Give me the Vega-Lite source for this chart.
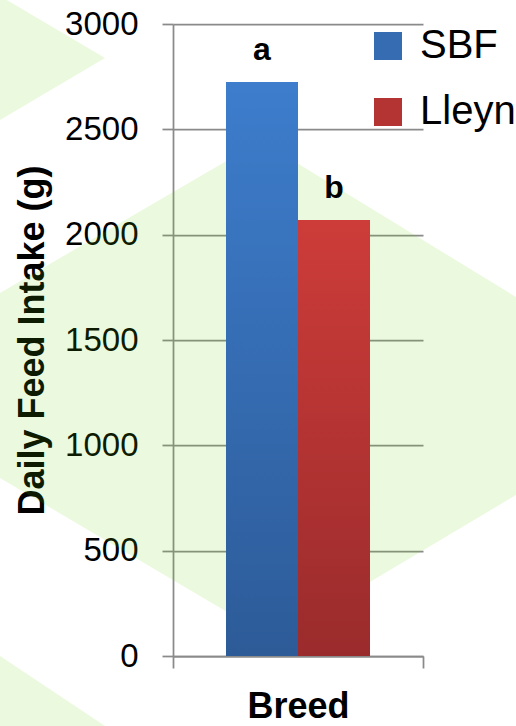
{
  "$schema": "https://vega.github.io/schema/vega-lite/v6.json",
  "width": 250,
  "height": 632,
  "autosize": {"type": "none"},
  "padding": {"left": 173, "top": 24, "right": 93, "bottom": 70},
  "background": "white",
  "config": {"view": {"stroke": null}, "font": "Liberation Sans"},
  "datasets": {
    "intake": [
      {"group": "all", "breed": "SBF", "intake": 2725, "sig": "a"},
      {"group": "all", "breed": "Lleyn", "intake": 2070, "sig": "b"}
    ],
    "backdrop": [
      {"shape": "hex", "u": -173, "top": 1723, "bottom": 845},
      {"shape": "hex", "u": 88, "top": 2445, "bottom": 114},
      {"shape": "hex", "u": 101, "top": 2407, "bottom": 81},
      {"shape": "hex", "u": 343, "top": 1704, "bottom": 764},
      {"shape": "upper", "u": -173, "top": 3133, "bottom": 2544},
      {"shape": "upper", "u": -68, "top": 2839, "bottom": 2839},
      {"shape": "lower", "u": -173, "top": 0, "bottom": -399},
      {"shape": "lower", "u": -68, "top": -332, "bottom": -399}
    ]
  },
  "layer": [
    {
      "data": {"name": "backdrop"},
      "mark": {"type": "area", "color": "#65d100", "opacity": 0.13, "clip": false, "interpolate": "linear"},
      "encoding": {
        "x": {"field": "u", "type": "quantitative", "scale": {"domain": [0, 250], "nice": false, "zero": false}, "axis": null},
        "y": {
          "field": "top", "type": "quantitative",
          "scale": {"domain": [0, 3000], "nice": false},
          "axis": {
            "title": "Daily Feed Intake (g)", "values": [0, 500, 1000, 1500, 2000, 2500, 3000], "format": "d",
            "titleFontSize": 36, "titleFontWeight": "bold", "titleColor": "black", "titlePadding": 13,
            "labelFontSize": 33, "labelColor": "black", "labelPadding": 24,
            "tickSize": 11, "tickColor": "#8a8a8a", "tickWidth": 1.75,
            "domainColor": "#8a8a8a", "domainWidth": 1.75,
            "grid": true, "gridColor": "#8a8a8a", "gridWidth": 1.75
          }
        },
        "y2": {"field": "bottom"},
        "detail": {"field": "shape", "type": "nominal"}
      }
    },
    {
      "data": {"name": "intake"},
      "encoding": {
        "x": {
          "field": "group", "type": "nominal",
          "scale": {"paddingInner": 0, "paddingOuter": 0},
          "axis": {
            "title": "Breed", "labels": false, "bandPosition": 1, "tickExtra": true,
            "tickSize": 12, "tickColor": "#8a8a8a", "tickWidth": 1.75,
            "domainColor": "#8a8a8a", "domainWidth": 1.75,
            "titleFontSize": 36, "titleFontWeight": "bold", "titleColor": "black", "titlePadding": 21
          }
        },
        "xOffset": {"field": "breed", "type": "nominal", "sort": ["SBF", "Lleyn"], "scale": {"paddingInner": 0, "paddingOuter": 0.736}},
        "y": {
          "field": "intake", "type": "quantitative",
          "scale": {"domain": [0, 3000], "nice": false},
          "axis": {
            "title": "Daily Feed Intake (g)", "values": [0, 500, 1000, 1500, 2000, 2500, 3000], "format": "d",
            "titleFontSize": 36, "titleFontWeight": "bold", "titleColor": "black", "titlePadding": 13,
            "labelFontSize": 33, "labelColor": "black", "labelPadding": 24,
            "tickSize": 11, "tickColor": "#8a8a8a", "tickWidth": 1.75,
            "domainColor": "#8a8a8a", "domainWidth": 1.75,
            "grid": true, "gridColor": "#8a8a8a", "gridWidth": 1.75
          }
        }
      },
      "layer": [
        {
          "mark": {"type": "bar"},
          "encoding": {
            "color": {
              "field": "breed", "type": "nominal",
              "scale": {"domain": ["SBF", "Lleyn"], "range": ["#356cb2", "#b43433"]},
              "legend": {
                "title": null, "orient": "none", "legendX": 195, "legendY": 2, "padding": 0,
                "symbolType": "square", "symbolSize": 784, "symbolStrokeWidth": 0,
                "labelFontSize": 40, "labelColor": "black", "labelOffset": 12, "rowPadding": 26, "labelLimit": 200,
                "encode": {
                  "symbols": {
                    "update": {
                      "fill": [
                        {"test": "datum.value === 'SBF'", "value": {"gradient": "linear", "x1": 0, "y1": 0, "x2": 0, "y2": 1, "stops": [{"offset": 0, "color": "#3d7dcc"}, {"offset": 1, "color": "#2d5b98"}]}},
                        {"value": {"gradient": "linear", "x1": 0, "y1": 0, "x2": 0, "y2": 1, "stops": [{"offset": 0, "color": "#cd3c39"}, {"offset": 1, "color": "#9a2b2c"}]}}
                      ]
                    }
                  }
                }
              }
            }
          }
        },
        {
          "mark": {"type": "bar"},
          "encoding": {
            "fill": {
              "condition": {
                "test": "datum.breed === 'SBF'",
                "value": {"gradient": "linear", "x1": 0, "y1": 0, "x2": 0, "y2": 1, "stops": [{"offset": 0, "color": "#3d7dcc"}, {"offset": 1, "color": "#2d5b98"}]}
              },
              "value": {"gradient": "linear", "x1": 0, "y1": 0, "x2": 0, "y2": 1, "stops": [{"offset": 0, "color": "#cd3c39"}, {"offset": 1, "color": "#9a2b2c"}]}
            }
          }
        },
        {
          "mark": {"type": "text", "fontSize": 32, "fontWeight": "bold", "color": "black", "baseline": "alphabetic", "dy": -22},
          "encoding": {"text": {"field": "sig", "type": "nominal"}}
        }
      ]
    }
  ],
  "resolve": {"scale": {"x": "independent"}, "axis": {"x": "independent"}}
}
